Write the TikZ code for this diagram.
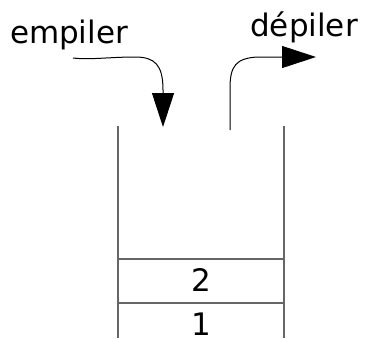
\documentclass[tikz,border=0pt]{standalone}
\usepackage{fontspec}
\setmainfont{DejaVu Sans}
\usetikzlibrary{arrows.meta}
\begin{document}
\begin{tikzpicture}[x=1pt,y=-1pt,
  lbl/.style={font=\fontsize{31}{36}\selectfont, inner sep=0pt, anchor=base},
  wall/.style={draw=black!60, line width=1.3pt},
  flow/.style={line width=1pt, -{Triangle[length=34pt,width=22pt]}}]
\useasboundingbox (0,0) rectangle (366,338);
% labels
\node[lbl] (emp) at (69,43) {empiler};
\node[lbl] (dep) at (304,36) {dépiler};
% stack walls
\coordinate (tl) at (118,126);
\coordinate (bl) at (118,338);
\coordinate (tr) at (284,126);
\coordinate (br) at (284,338);
\coordinate (l2) at (118,259);
\coordinate (r2) at (284,259);
\coordinate (l1) at (118,303);
\coordinate (r1) at (284,303);
\draw[wall] (tl) -- (bl);
\draw[wall] (tr) -- (br);
\draw[wall] (l2) -- (r2);
\draw[wall] (l1) -- (r1);
% cell contents
\node[lbl] (c2) at (201,291) {2};
\node[lbl] (c1) at (201,335) {1};
% arrows
\coordinate (pushs) at (73,58);
\coordinate (pushe) at (163,127);
\coordinate (pops) at (230,130);
\coordinate (pope) at (316,57);
\draw[flow] (pushs) .. controls (90,60) and (110,57) .. (135,57)
  .. controls (155,57) and (163,65) .. (163,90) -- (pushe);
\draw[flow] (pops) -- (230,88) .. controls (230,66) and (236,58) .. (258,57) -- (pope);
\end{tikzpicture}
\end{document}
